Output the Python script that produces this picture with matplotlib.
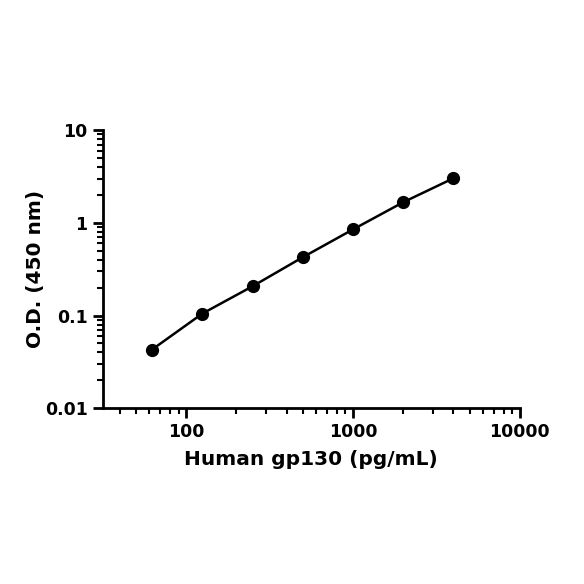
import matplotlib
matplotlib.use("Agg")
import matplotlib.pyplot as plt
from matplotlib.ticker import LogLocator, FixedLocator, NullFormatter

# standard curve
conc = [62.5, 125, 250, 500, 1000, 2000, 4000]
od = [0.043, 0.105, 0.207, 0.426, 0.85, 1.67, 3.03]
xticks = [100, 1000, 10000]
xticklabels = ["100", "1000", "10000"]
yticks = [0.01, 0.1, 1, 10]
yticklabels = ["0.01", "0.1", "1", "10"]

plt.rcParams['font.family'] = ['DejaVu Sans']
plt.rcParams['font.weight'] = 'bold'

fig = plt.figure(figsize=(5.84, 5.84), dpi=100)
ax = fig.add_axes([0.176, 0.301, 0.714, 0.476])

ax.plot(conc, od, color='black', lw=1.8, marker='o', ms=8.5, mfc='black', mec='black')

ax.set_xscale('log')
ax.set_yscale('log')
ax.set_xlim(10 ** 1.5, 10000)
ax.set_ylim(0.01, 10)

ax.xaxis.set_major_locator(FixedLocator(xticks))
ax.set_xticklabels(xticklabels)
ax.yaxis.set_major_locator(FixedLocator(yticks))
ax.set_yticklabels(yticklabels)
ax.xaxis.set_minor_locator(LogLocator(base=10, subs=range(2, 10), numticks=20))
ax.yaxis.set_minor_locator(LogLocator(base=10, subs=range(2, 10), numticks=20))
ax.xaxis.set_minor_formatter(NullFormatter())
ax.yaxis.set_minor_formatter(NullFormatter())

for s in ['top', 'right']:
    ax.spines[s].set_visible(False)
for s in ['left', 'bottom']:
    ax.spines[s].set_linewidth(2)

ax.tick_params(which='major', length=7, width=2, labelsize=12.5, pad=4)
ax.tick_params(which='minor', length=4, width=1.5)

ax.set_xlabel("Human gp130 (pg/mL)", fontsize=14.5, fontweight='bold', labelpad=6)
ax.set_ylabel("O.D. (450 nm)", fontsize=14.5, fontweight='bold', labelpad=0)

fig.savefig("out.png", dpi=100)
